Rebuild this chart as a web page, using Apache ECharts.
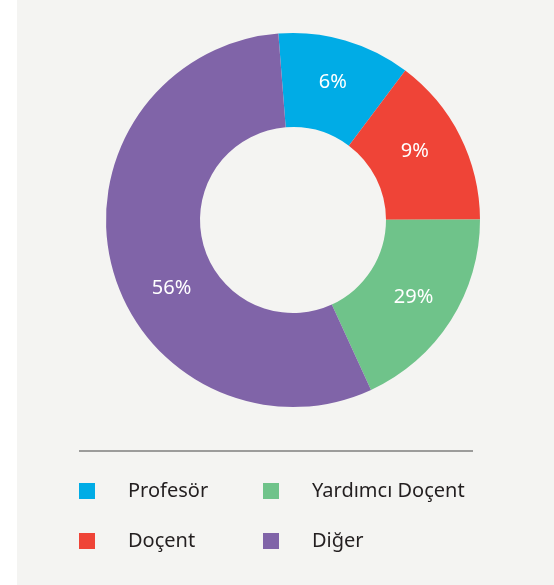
<!DOCTYPE html>
<html>
<head>
<meta charset="utf-8">
<script src="https://cdn.jsdelivr.net/npm/echarts@6/dist/echarts.min.js"></script>
<style>
    html, body {margin: 0; padding: 0; background: #ffffff;}
    #main {position: absolute; left: 17px; top: 0; width: 537px; height: 585px; background: #f4f4f2;}
</style>
</head>
<body>
<div id="main"></div>
<script>
var categories = ['Profesör', 'Doçent', 'Yardımcı Doçent', 'Diğer'];
var sliceValues = [11.5, 14.7, 18.2, 55.6];
var sliceLabels = ['6%', '9%', '29%', '56%'];
var colors = ['#00ace6', '#ef4437', '#6fc38a', '#8064a8'];

(function () {
    var myChart = echarts.init(document.getElementById('main'));

    var seriesData = [];
    for (var i in categories) {
        seriesData.push({
            name: categories[i],
            value: sliceValues[i],
            itemStyle: {color: colors[i]}
        });
    }

    var legendText = {
        fontFamily: 'Noto Sans',
        fontSize: 20,
        color: '#231f20',
        lineHeight: 24,
        padding: [0, 0, 0, 28]
    };

    var option = {
        animation: false,
        legend: [
            {
                orient: 'vertical',
                left: 62,
                top: 479,
                padding: 0,
                itemWidth: 16,
                itemHeight: 16,
                itemGap: 26,
                icon: 'rect',
                selectedMode: false,
                data: [categories[0], categories[1]],
                textStyle: legendText
            },
            {
                orient: 'vertical',
                left: 246,
                top: 479,
                padding: 0,
                itemWidth: 16,
                itemHeight: 16,
                itemGap: 26,
                icon: 'rect',
                selectedMode: false,
                data: [categories[2], categories[3]],
                textStyle: legendText
            }
        ],
        graphic: [
            {
                type: 'line',
                shape: {x1: 62, y1: 451, x2: 456, y2: 451},
                style: {stroke: '#444444', lineWidth: 1}
            }
        ],
        series: [
            {
                name: 'Kadro',
                type: 'pie',
                center: [276, 220],
                radius: [93, 187],
                startAngle: 94.5,
                clockwise: true,
                silent: true,
                data: seriesData,
                label: {
                    show: true,
                    position: 'inner',
                    color: '#ffffff',
                    fontFamily: 'Noto Sans',
                    fontSize: 20,
                    formatter: function (p) {
                        return sliceLabels[p.dataIndex];
                    }
                },
                labelLine: {show: false},
                labelLayout: function (p) {
                    if (p.dataIndex == 3) {
                        return {dx: 17, dy: 32};
                    }
                    if (p.dataIndex == 1) {
                        return {dx: -6, dy: -5};
                    }
                    return {};
                }
            }
        ]
    };
    myChart.setOption(option, true);
})();
</script>
</body>
</html>
